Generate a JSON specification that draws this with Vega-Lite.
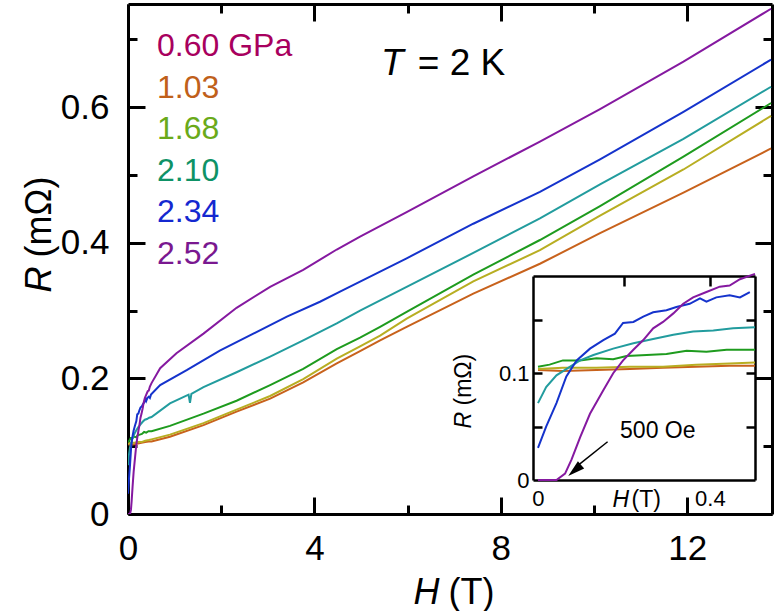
{
"$schema": "https://vega.github.io/schema/vega-lite/v6.json",
"width": 644, "height": 510,
"autosize": {"type": "none"},
"padding": {"left": 128, "top": 4, "right": 6, "bottom": 97},
"background": "white",
"config": {
  "view": {"stroke": null},
  "font": "Liberation Sans",
  "axis": {"grid": false, "labelColor": "black", "titleColor": "black", "domainColor": "black", "tickColor": "black", "labelFont": "Liberation Sans", "titleFont": "Liberation Sans", "titleFontWeight": "normal", "labelFlush": false, "labelOverlap": false}
},
"datasets": {
  "d": [
    {"p":"0.60 GPa","H":0,"R":0.103},{"p":"0.60 GPa","H":0.058,"R":0.102},{"p":"0.60 GPa","H":0.136,"R":0.103},{"p":"0.60 GPa","H":0.214,"R":0.104},{"p":"0.60 GPa","H":0.291,"R":0.105},{"p":"0.60 GPa","H":0.368,"R":0.106},{"p":"0.60 GPa","H":0.446,"R":0.107},{"p":"0.60 GPa","H":0.505,"R":0.107},{"p":"0.60 GPa","H":0.9,"R":0.114},{"p":"0.60 GPa","H":1.62,"R":0.131},{"p":"0.60 GPa","H":2.33,"R":0.151},{"p":"0.60 GPa","H":3.05,"R":0.170},{"p":"0.60 GPa","H":3.76,"R":0.194},{"p":"0.60 GPa","H":4.48,"R":0.222},{"p":"0.60 GPa","H":4.98,"R":0.240},{"p":"0.60 GPa","H":5.41,"R":0.256},{"p":"0.60 GPa","H":5.98,"R":0.276},{"p":"0.60 GPa","H":7.41,"R":0.325},{"p":"0.60 GPa","H":8.84,"R":0.369},{"p":"0.60 GPa","H":10.13,"R":0.414},{"p":"0.60 GPa","H":11.92,"R":0.474},{"p":"0.60 GPa","H":13.8,"R":0.539},
    {"p":"1.03","H":0,"R":0.104},{"p":"1.03","H":0.058,"R":0.105},{"p":"1.03","H":0.136,"R":0.105},{"p":"1.03","H":0.214,"R":0.106},{"p":"1.03","H":0.291,"R":0.106},{"p":"1.03","H":0.368,"R":0.108},{"p":"1.03","H":0.446,"R":0.109},{"p":"1.03","H":0.505,"R":0.110},{"p":"1.03","H":0.9,"R":0.117},{"p":"1.03","H":1.62,"R":0.134},{"p":"1.03","H":2.33,"R":0.154},{"p":"1.03","H":3.05,"R":0.174},{"p":"1.03","H":3.76,"R":0.199},{"p":"1.03","H":4.48,"R":0.229},{"p":"1.03","H":4.98,"R":0.247},{"p":"1.03","H":5.41,"R":0.263},{"p":"1.03","H":5.98,"R":0.288},{"p":"1.03","H":7.41,"R":0.343},{"p":"1.03","H":8.84,"R":0.389},{"p":"1.03","H":10.13,"R":0.440},{"p":"1.03","H":11.92,"R":0.508},{"p":"1.03","H":13.8,"R":0.587},
    {"p":"1.68","H":0,"R":0.106},{"p":"1.68","H":0.027,"R":0.108},{"p":"1.68","H":0.058,"R":0.112},{"p":"1.68","H":0.098,"R":0.112},{"p":"1.68","H":0.136,"R":0.114},{"p":"1.68","H":0.175,"R":0.113},{"p":"1.68","H":0.206,"R":0.116},{"p":"1.68","H":0.253,"R":0.117},{"p":"1.68","H":0.299,"R":0.118},{"p":"1.68","H":0.346,"R":0.121},{"p":"1.68","H":0.392,"R":0.120},{"p":"1.68","H":0.439,"R":0.122},{"p":"1.68","H":0.505,"R":0.122},{"p":"1.68","H":0.9,"R":0.130},{"p":"1.68","H":1.62,"R":0.148},{"p":"1.68","H":2.33,"R":0.167},{"p":"1.68","H":3.05,"R":0.190},{"p":"1.68","H":3.76,"R":0.214},{"p":"1.68","H":4.48,"R":0.243},{"p":"1.68","H":4.98,"R":0.260},{"p":"1.68","H":5.41,"R":0.276},{"p":"1.68","H":5.98,"R":0.298},{"p":"1.68","H":7.41,"R":0.353},{"p":"1.68","H":8.84,"R":0.404},{"p":"1.68","H":10.13,"R":0.454},{"p":"1.68","H":11.92,"R":0.527},{"p":"1.68","H":13.8,"R":0.606},
    {"p":"2.10","H":0,"R":0.072},{"p":"2.10","H":0.019,"R":0.087},{"p":"2.10","H":0.043,"R":0.098},{"p":"2.10","H":0.074,"R":0.106},{"p":"2.10","H":0.098,"R":0.112},{"p":"2.10","H":0.129,"R":0.117},{"p":"2.10","H":0.175,"R":0.123},{"p":"2.10","H":0.222,"R":0.128},{"p":"2.10","H":0.268,"R":0.132},{"p":"2.10","H":0.315,"R":0.136},{"p":"2.10","H":0.361,"R":0.139},{"p":"2.10","H":0.408,"R":0.140},{"p":"2.10","H":0.454,"R":0.142},{"p":"2.10","H":0.505,"R":0.143},{"p":"2.10","H":0.9,"R":0.163},{"p":"2.10","H":1.30,"R":0.176},{"p":"2.10","H":1.33,"R":0.164},{"p":"2.10","H":1.36,"R":0.177},{"p":"2.10","H":1.62,"R":0.187},{"p":"2.10","H":2.33,"R":0.209},{"p":"2.10","H":3.05,"R":0.232},{"p":"2.10","H":3.76,"R":0.256},{"p":"2.10","H":4.48,"R":0.281},{"p":"2.10","H":4.98,"R":0.300},{"p":"2.10","H":5.98,"R":0.335},{"p":"2.10","H":7.41,"R":0.385},{"p":"2.10","H":8.84,"R":0.436},{"p":"2.10","H":10.13,"R":0.486},{"p":"2.10","H":11.92,"R":0.553},{"p":"2.10","H":13.8,"R":0.630},
    {"p":"2.34","H":0,"R":0.030},{"p":"2.34","H":0.019,"R":0.050},{"p":"2.34","H":0.043,"R":0.072},{"p":"2.34","H":0.066,"R":0.097},{"p":"2.34","H":0.09,"R":0.112},{"p":"2.34","H":0.121,"R":0.123},{"p":"2.34","H":0.152,"R":0.131},{"p":"2.34","H":0.179,"R":0.137},{"p":"2.34","H":0.198,"R":0.147},{"p":"2.34","H":0.222,"R":0.148},{"p":"2.34","H":0.245,"R":0.153},{"p":"2.34","H":0.268,"R":0.157},{"p":"2.34","H":0.299,"R":0.159},{"p":"2.34","H":0.322,"R":0.162},{"p":"2.34","H":0.353,"R":0.165},{"p":"2.34","H":0.377,"R":0.170},{"p":"2.34","H":0.392,"R":0.167},{"p":"2.34","H":0.415,"R":0.171},{"p":"2.34","H":0.446,"R":0.173},{"p":"2.34","H":0.47,"R":0.171},{"p":"2.34","H":0.493,"R":0.176},{"p":"2.34","H":0.69,"R":0.190},{"p":"2.34","H":1.26,"R":0.212},{"p":"2.34","H":1.97,"R":0.241},{"p":"2.34","H":2.69,"R":0.266},{"p":"2.34","H":3.41,"R":0.291},{"p":"2.34","H":4.12,"R":0.313},{"p":"2.34","H":4.55,"R":0.328},{"p":"2.34","H":5.98,"R":0.377},{"p":"2.34","H":7.41,"R":0.428},{"p":"2.34","H":8.84,"R":0.475},{"p":"2.34","H":10.13,"R":0.523},{"p":"2.34","H":11.92,"R":0.593},{"p":"2.34","H":13.8,"R":0.670},
    {"p":"2.52","H":0,"R":0},{"p":"2.52","H":0.043,"R":0},{"p":"2.52","H":0.063,"R":0.006},{"p":"2.52","H":0.078,"R":0.019},{"p":"2.52","H":0.098,"R":0.040},{"p":"2.52","H":0.121,"R":0.062},{"p":"2.52","H":0.152,"R":0.084},{"p":"2.52","H":0.175,"R":0.100},{"p":"2.52","H":0.198,"R":0.112},{"p":"2.52","H":0.222,"R":0.122},{"p":"2.52","H":0.245,"R":0.131},{"p":"2.52","H":0.268,"R":0.142},{"p":"2.52","H":0.291,"R":0.148},{"p":"2.52","H":0.315,"R":0.156},{"p":"2.52","H":0.338,"R":0.165},{"p":"2.52","H":0.361,"R":0.171},{"p":"2.52","H":0.392,"R":0.176},{"p":"2.52","H":0.423,"R":0.181},{"p":"2.52","H":0.446,"R":0.182},{"p":"2.52","H":0.47,"R":0.188},{"p":"2.52","H":0.505,"R":0.193},{"p":"2.52","H":0.69,"R":0.215},{"p":"2.52","H":1.04,"R":0.237},{"p":"2.52","H":1.62,"R":0.266},{"p":"2.52","H":2.33,"R":0.304},{"p":"2.52","H":3.05,"R":0.335},{"p":"2.52","H":3.76,"R":0.360},{"p":"2.52","H":4.48,"R":0.390},{"p":"2.52","H":4.98,"R":0.409},{"p":"2.52","H":5.98,"R":0.445},{"p":"2.52","H":7.41,"R":0.498},{"p":"2.52","H":8.84,"R":0.549},{"p":"2.52","H":10.13,"R":0.597},{"p":"2.52","H":11.92,"R":0.667},{"p":"2.52","H":13.8,"R":0.745}
  ]
},
"data": {"name": "d"},
"layer": [
  {
    "layer": [
      {
        "mark": {"type": "line", "strokeWidth": 2, "clip": true},
        "encoding": {
          "x": {"field": "H", "type": "quantitative", "scale": {"domain": [0, 13.82], "nice": false, "zero": false},
                "axis": {"orient": "bottom", "values": [0, 4, 8, 12], "labelExpr": "'' + datum.value", "ticks": false, "domain": true, "domainWidth": 3, "labelFontSize": 35, "labelPadding": 17,
                         "title": "H", "titleFontStyle": "italic", "titleFontSize": 36, "titleAlign": "left", "titleX": 285, "titleY": 89, "titleBaseline": "alphabetic"}},
          "y": {"field": "R", "type": "quantitative", "scale": {"domain": [0, 0.752], "nice": false, "zero": false},
                "axis": {"orient": "left", "values": [0, 0.2, 0.4, 0.6], "labelExpr": "'' + datum.value", "ticks": false, "domain": true, "domainWidth": 3, "labelFontSize": 35, "labelPadding": 19,
                         "title": "R", "titleFontStyle": "italic", "titleFontSize": 36, "titleAngle": 270, "titleAlign": "left", "titleX": -78, "titleY": 288, "titleBaseline": "alphabetic"}},
          "color": {"field": "p", "type": "nominal",
                    "scale": {"domain": ["0.60 GPa", "1.03", "1.68", "2.10", "2.34", "2.52"], "range": ["#C8621C", "#B8AE22", "#1E9B1E", "#229C9E", "#1533CC", "#8519A0"]},
                    "legend": {"orient": "none", "legendX": -3, "legendY": 26, "title": null, "symbolSize": 0, "symbolStrokeWidth": 0, "symbolOpacity": 0, "symbolType": "circle",
                               "labelFontSize": 32, "labelFont": "Liberation Sans", "labelOffset": 0, "rowPadding": 9.5, "padding": 0, "labelLimit": 400,
                               "encode": {"labels": {"update": {"fill": {"signal": "datum.value === '0.60 GPa' ? '#A8005E' : datum.value === '1.03' ? '#C0601A' : datum.value === '1.68' ? '#6AAA1A' : datum.value === '2.10' ? '#0E9266' : datum.value === '2.34' ? '#1428D0' : '#7A1890'"}}}}}}
        }
      },
      {
        "mark": {"type": "point", "opacity": 0},
        "encoding": {
          "x": {"field": "H", "type": "quantitative", "scale": {"domain": [0, 13.82], "nice": false, "zero": false},
                "axis": {"orient": "bottom", "values": [0, 4, 8, 12], "labels": false, "domain": false, "tickSize": -17, "tickWidth": 3,
                         "title": "(T)", "titleFontSize": 36, "titleAlign": "left", "titleX": 320, "titleY": 89, "titleBaseline": "alphabetic"}},
          "y": {"field": "R", "type": "quantitative", "scale": {"domain": [0, 0.752], "nice": false, "zero": false},
                "axis": {"orient": "left", "values": [0, 0.2, 0.4, 0.6], "labels": false, "domain": false, "tickSize": -17, "tickWidth": 3,
                         "title": "(mΩ)", "titleFontSize": 36, "titleAngle": 270, "titleAlign": "left", "titleX": -78, "titleY": 253, "titleBaseline": "alphabetic"}}
        }
      },
      {
        "mark": {"type": "point", "opacity": 0},
        "encoding": {
          "x": {"field": "H", "type": "quantitative", "scale": {"domain": [0, 13.82], "nice": false, "zero": false},
                "axis": {"orient": "bottom", "values": [2, 6, 10], "labels": false, "domain": false, "tickSize": -9, "tickWidth": 3, "title": null}},
          "y": {"field": "R", "type": "quantitative", "scale": {"domain": [0, 0.752], "nice": false, "zero": false},
                "axis": {"orient": "left", "values": [0.1, 0.3, 0.5, 0.7], "labels": false, "domain": false, "tickSize": -9, "tickWidth": 3, "title": null}}
        }
      },
      {
        "mark": {"type": "point", "opacity": 0},
        "encoding": {
          "x": {"field": "H", "type": "quantitative", "scale": {"domain": [0, 13.82], "nice": false, "zero": false},
                "axis": {"orient": "top", "values": [0, 4, 8, 12], "labels": false, "domain": true, "domainWidth": 3, "tickSize": -17, "tickWidth": 3, "title": null}},
          "y": {"field": "R", "type": "quantitative", "scale": {"domain": [0, 0.752], "nice": false, "zero": false},
                "axis": {"orient": "right", "values": [0, 0.2, 0.4, 0.6], "labels": false, "domain": true, "domainWidth": 3, "tickSize": -17, "tickWidth": 3, "title": null}}
        }
      },
      {
        "mark": {"type": "point", "opacity": 0},
        "encoding": {
          "x": {"field": "H", "type": "quantitative", "scale": {"domain": [0, 13.82], "nice": false, "zero": false},
                "axis": {"orient": "top", "values": [2, 6, 10], "labels": false, "domain": false, "tickSize": -9, "tickWidth": 3, "title": null}},
          "y": {"field": "R", "type": "quantitative", "scale": {"domain": [0, 0.752], "nice": false, "zero": false},
                "axis": {"orient": "right", "values": [0.1, 0.3, 0.5, 0.7], "labels": false, "domain": false, "tickSize": -9, "tickWidth": 3, "title": null}}
        }
      },
      {
        "data": {"values": [{"t": "T"}]},
        "mark": {"type": "text", "fontSize": 37, "fontStyle": "italic", "align": "left", "baseline": "alphabetic", "font": "Liberation Sans", "color": "black"},
        "encoding": {
          "text": {"field": "t"},
          "x": {"datum": 5.43, "type": "quantitative", "scale": {"domain": [0, 13.82], "nice": false, "zero": false}, "axis": null},
          "y": {"datum": 0.647, "type": "quantitative", "scale": {"domain": [0, 0.752], "nice": false, "zero": false}, "axis": null}
        }
      },
      {
        "data": {"values": [{"t": "= 2 K"}]},
        "mark": {"type": "text", "fontSize": 37, "align": "left", "baseline": "alphabetic", "font": "Liberation Sans", "color": "black"},
        "encoding": {
          "text": {"field": "t"},
          "x": {"datum": 6.22, "type": "quantitative", "scale": {"domain": [0, 13.82], "nice": false, "zero": false}, "axis": null},
          "y": {"datum": 0.647, "type": "quantitative", "scale": {"domain": [0, 0.752], "nice": false, "zero": false}, "axis": null}
        }
      }
    ],
    "resolve": {"axis": {"x": "independent", "y": "independent"}}
  },
  {
    "layer": [
      {
        "transform": [{"filter": "datum.H <= 0.51"}],
        "mark": {"type": "line", "strokeWidth": 2, "clip": true},
        "encoding": {
          "x": {"field": "H", "type": "quantitative", "scale": {"domain": [-0.0116, 0.505], "range": [405, 627], "nice": false, "zero": false},
                "axis": {"orient": "bottom", "offset": -34, "values": [0, 0.4], "labelExpr": "'' + datum.value", "ticks": false, "domain": true, "domainWidth": 2.5, "labelFontSize": 22, "labelPadding": 8,
                         "title": "H", "titleFontStyle": "italic", "titleFontSize": 23, "titleAlign": "left", "titleX": 484, "titleY": 26, "titleBaseline": "alphabetic"}},
          "y": {"field": "R", "type": "quantitative", "scale": {"domain": [0, 0.191], "range": [476, 272], "nice": false, "zero": false},
                "axis": {"orient": "left", "offset": -405, "values": [0, 0.1], "labelExpr": "'' + datum.value", "ticks": false, "domain": true, "domainWidth": 2.5, "labelFontSize": 22, "labelPadding": 4,
                         "title": "R", "titleFontStyle": "italic", "titleFontSize": 23, "titleAngle": 270, "titleAlign": "left", "titleX": -63, "titleY": 424, "titleBaseline": "alphabetic"}},
          "color": {"field": "p", "type": "nominal",
                    "scale": {"domain": ["0.60 GPa", "1.03", "1.68", "2.10", "2.34", "2.52"], "range": ["#C8621C", "#B8AE22", "#1E9B1E", "#229C9E", "#1533CC", "#8519A0"]},
                    "legend": null}
        }
      },
      {
        "mark": {"type": "point", "opacity": 0},
        "encoding": {
          "x": {"field": "H", "type": "quantitative", "scale": {"domain": [-0.0116, 0.505], "range": [405, 627], "nice": false, "zero": false},
                "axis": {"orient": "top", "offset": -272, "values": [0.2, 0.4], "labels": false, "domain": true, "domainWidth": 2.5, "tickSize": -10, "tickWidth": 2.5, "title": null}},
          "y": {"field": "R", "type": "quantitative", "scale": {"domain": [0, 0.191], "range": [476, 272], "nice": false, "zero": false},
                "axis": {"orient": "right", "offset": -17, "values": [0.05, 0.1, 0.15], "labels": false, "domain": true, "domainWidth": 2.5, "tickSize": -9, "tickWidth": 2.5, "title": null}}
        }
      },
      {
        "mark": {"type": "point", "opacity": 0},
        "encoding": {
          "x": {"field": "H", "type": "quantitative", "scale": {"domain": [-0.0116, 0.505], "range": [405, 627], "nice": false, "zero": false},
                "axis": {"orient": "bottom", "offset": -34, "labels": false, "ticks": false, "domain": false,
                         "title": "(T)", "titleFontSize": 23, "titleAlign": "left", "titleX": 503, "titleY": 26, "titleBaseline": "alphabetic"}},
          "y": {"field": "R", "type": "quantitative", "scale": {"domain": [0, 0.191], "range": [476, 272], "nice": false, "zero": false},
                "axis": {"orient": "left", "offset": -405, "values": [0.05, 0.1, 0.15], "labels": false, "domain": false, "tickSize": -9, "tickWidth": 2.5,
                         "title": "(mΩ)", "titleFontSize": 23, "titleAngle": 270, "titleAlign": "left", "titleX": -63, "titleY": 401, "titleBaseline": "alphabetic"}}
        }
      },
      {
        "data": {"values": [{"a": 1}]},
        "mark": {"type": "rule", "strokeWidth": 1.5, "color": "black"},
        "encoding": {
          "x": {"datum": 0.162, "type": "quantitative", "scale": {"domain": [-0.0116, 0.505], "range": [405, 627], "nice": false, "zero": false}, "axis": null},
          "y": {"datum": 0.0358, "type": "quantitative", "scale": {"domain": [0, 0.191], "range": [476, 272], "nice": false, "zero": false}, "axis": null},
          "x2": {"datum": 0.088},
          "y2": {"datum": 0.012}
        }
      },
      {
        "data": {"values": [{"a": 1}]},
        "mark": {"type": "point", "shape": "M0,-1L0.45,0.6L-0.45,0.6Z", "filled": true, "color": "black", "opacity": 1, "size": 450, "angle": 229},
        "encoding": {
          "x": {"datum": 0.089, "type": "quantitative", "scale": {"domain": [-0.0116, 0.505], "range": [405, 627], "nice": false, "zero": false}, "axis": null},
          "y": {"datum": 0.0103, "type": "quantitative", "scale": {"domain": [0, 0.191], "range": [476, 272], "nice": false, "zero": false}, "axis": null}
        }
      },
      {
        "data": {"values": [{"t": "500 Oe"}]},
        "mark": {"type": "text", "fontSize": 23, "align": "left", "baseline": "alphabetic", "font": "Liberation Sans", "color": "black"},
        "encoding": {
          "text": {"field": "t"},
          "x": {"datum": 0.191, "type": "quantitative", "scale": {"domain": [-0.0116, 0.505], "range": [405, 627], "nice": false, "zero": false}, "axis": null},
          "y": {"datum": 0.039, "type": "quantitative", "scale": {"domain": [0, 0.191], "range": [476, 272], "nice": false, "zero": false}, "axis": null}
        }
      }
    ],
    "resolve": {"axis": {"x": "independent", "y": "independent"}}
  }
],
"resolve": {"scale": {"x": "independent", "y": "independent", "color": "independent"}, "axis": {"x": "independent", "y": "independent"}}
}
